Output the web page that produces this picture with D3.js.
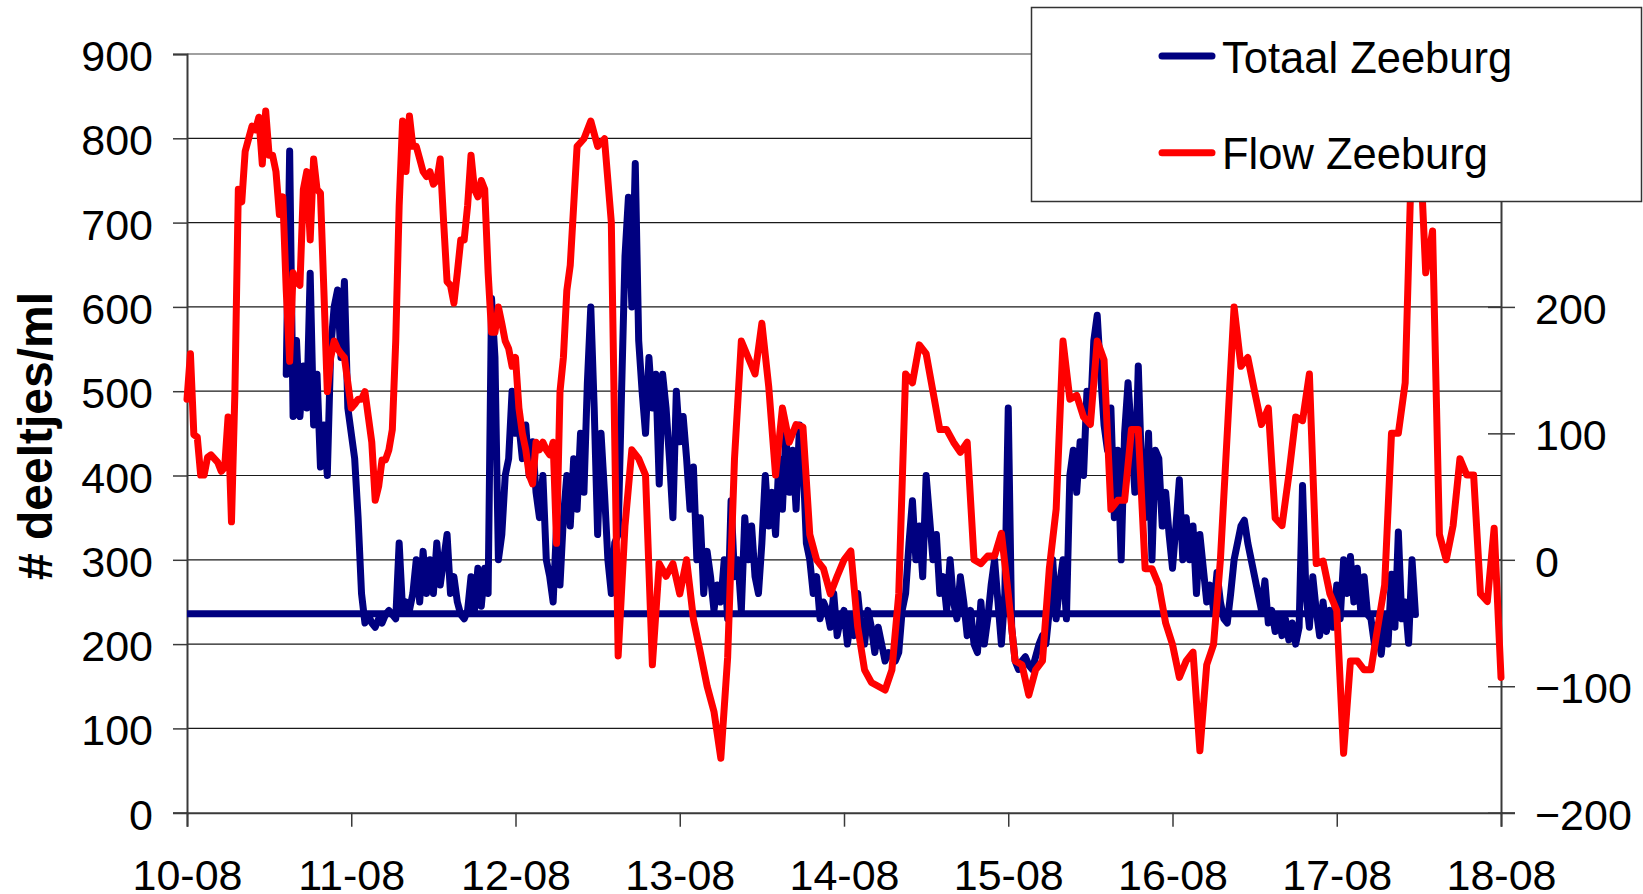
<!DOCTYPE html>
<html>
<head>
<meta charset="utf-8">
<script src="https://cdnjs.cloudflare.com/ajax/libs/d3/7.8.5/d3.min.js"></script>
<style>
  html, body { margin: 0; padding: 0; background: #fff; }
  text { font-family: "Liberation Sans", Arial, sans-serif; }
</style>
</head>
<body>
<div id="chart"></div>
<script>
// tick labels
var dagLabels = ['10-08', '11-08', '12-08', '13-08', '14-08', '15-08', '16-08', '17-08', '18-08'];
var linksTicks = [0, 100, 200, 300, 400, 500, 600, 700, 800, 900];
var rechtsTicks = [-200, -100, 0, 100, 200, 300, 400];

// Totaal Zeeburg (# deeltjes/ml), one reading per half hour, first one at 14.5 h after 10-08 00:00
var totaalStartUur = 14.5;
var totaalStapUur = 0.5;
var totaalZeeburg = [
  520, 785, 470, 560, 470, 530, 480, 640, 460, 520,
  410, 460, 400, 550, 600, 620, 540, 630, 480, 450,
  420, 350, 260, 225, 235, 225, 220, 230, 225, 235,
  240, 235, 230, 320, 240, 250, 240, 260, 300, 250,
  310, 260, 300, 260, 320, 270, 300, 330, 260, 280,
  250, 235, 230, 240, 280, 240, 290, 245, 290, 260,
  610, 540, 300, 330, 400, 420, 500, 450, 460, 420,
  460, 400, 440, 380, 350, 400, 300, 280, 250, 340,
  270, 350, 400, 340, 420, 360, 450, 380, 510, 600,
  480, 330, 450, 380, 300, 260, 320, 330, 500, 660,
  730, 600, 770, 560, 500, 450, 540, 480, 520, 390,
  520, 480, 420, 350, 500, 440, 470, 420, 360, 410,
  300, 350, 260, 310, 280, 240, 270, 250, 300, 230,
  370, 280, 300, 240, 350, 300, 340, 280, 260, 320,
  400, 340, 380, 330, 420, 360, 450, 380, 430, 360,
  460, 420, 320, 300, 260, 280, 230, 250, 240, 220,
  260, 210, 230, 240, 200, 230, 210, 260, 220, 200,
  240, 220, 190, 220, 200, 180, 190, 185, 180, 190,
  240, 260, 320, 370, 300, 340, 280, 400, 350, 300,
  330, 260, 280, 240, 300, 250, 230, 280, 250, 210,
  240, 200, 190, 250, 200, 230, 270, 300, 250, 200,
  260, 480, 220, 180, 170, 180, 185, 175, 170, 185,
  200, 210, 200, 240, 300, 230, 270, 300, 230, 400,
  430, 380, 440, 400, 500, 470, 560, 590, 520, 460,
  430, 480, 350, 430, 300, 450, 510, 450, 380, 530,
  400, 350, 450, 300, 430, 420, 340, 380, 330, 290,
  340, 395, 300, 350, 300, 340, 260, 330, 290, 250,
  270, 240, 285, 250, 230, 225, 260, 300, 320, 340,
  347, 320, 300, 280, 260, 240, 275, 225, 240, 215,
  235, 210, 230, 205, 225, 200, 220, 388, 260, 220,
  280, 240, 210, 250, 215, 240, 220, 270, 230, 300,
  260, 304, 250, 290, 240, 280, 235, 230, 200, 215,
  188, 230, 200, 283, 220, 333, 230, 250, 201, 300,
  235
];

// flat level of the Totaal Zeeburg series
var basisUren = [0, 179.5];
var basisWaarden = [236, 236];

// Flow Zeeburg (right axis), part 1: per half hour from 10-08 00:00 to 12-08 07:30
var flowDeel1Start = 0;
var flowDeel1Stap = 0.5;
var flowDeel1 = [
  127, 163, 99, 97, 67, 67, 81, 83, 80, 77,
  70, 73, 113, 30, 133, 293, 283, 323, 333, 343,
  340, 350, 313, 355, 320, 320, 307, 273, 287, 213,
  157, 227, 220, 217, 293, 307, 253, 317, 293, 290,
  213, 133, 160, 173, 167, 163, 160, 140, 120, 123,
  127, 127, 133, 113, 93, 47, 58, 79, 79, 87,
  103, 173, 280, 347, 307, 351, 327, 327, 317, 307,
  303, 307, 297, 300, 317, 267, 220, 217, 203, 227,
  253, 253, 280, 320, 293, 287, 300, 293, 227, 180,
  180, 200, 187, 173, 167, 153, 160, 120, 100, 87,
  67, 60, 93, 87, 93, 87, 83, 93, 13, 133,
  160, 213
];

// Flow Zeeburg, part 2: per hour from 12-08 08:00 to 18-08 00:00
var flowDeel2Start = 56;
var flowDeel2Stap = 1;
var flowDeel2 = [
  233, 327, 333, 347,
  327, 333, 267, -76, 27, 87, 80, 67, -83, -3,
  -13, -3, -27, 0, -47, -73, -100, -120, -157, -77,
  80, 173, 160, 147, 187, 137, 67, 120, 93, 107,
  105, 20, 0, -7, -27, -13, 0, 7, -53, -87,
  -97, -100, -103, -87, -27, 147, 140, 170, 163, 133,
  103, 103, 93, 85, 93, 0, -3, 3, 3, 21,
  -27, -80, -83, -107, -87, -80, -7, 40, 173, 127,
  130, 113, 107, 173, 158, 40, 47, 47, 103, 103,
  -7, -7, -20, -50, -67, -93, -80, -73, -151, -83,
  -67, 0, 100, 200, 153, 160, 133, 107, 120, 33,
  27, 67, 113, 110, 147, -3, -1, -27, -40, -153,
  -80, -80, -87, -87, -53, -20, 100, 100, 140, 333,
  347, 227, 260, 20, 0, 27, 80, 67, 67, -27,
  -33, 25, -93
];

var breedte = 1643;
var hoogte = 894;
var plotLinks = 187, plotRechts = 1501, plotBoven = 54, plotOnder = 812.7;
var blauw = '#000080';
var rood = '#ff0000';
var lijnDikte = 7;

var svg = d3.select('#chart').append('svg')
    .attr('width', breedte)
    .attr('height', hoogte);

var x = d3.scaleLinear().domain([0, 192]).range([plotLinks, plotRechts]);
var yL = d3.scaleLinear().domain([0, 900]).range([plotOnder, plotBoven]);
var yR = d3.scaleLinear().domain([-200, 400]).range([plotOnder, plotBoven]);

// gridlines
svg.append('g').selectAll('line')
  .data(linksTicks.slice(1, -1))
  .enter().append('line')
    .attr('x1', plotLinks).attr('x2', plotRechts)
    .attr('y1', function(d){ return yL(d); })
    .attr('y2', function(d){ return yL(d); })
    .attr('stroke', '#1a1a1a')
    .attr('stroke-width', 1.2);

// top border
svg.append('line')
  .attr('x1', plotLinks).attr('x2', plotRechts)
  .attr('y1', yL(900)).attr('y2', yL(900))
  .attr('stroke', '#808080').attr('stroke-width', 1.5);

// left axis
var axL = svg.append('g')
  .attr('transform', 'translate(' + plotLinks + ',0)')
  .call(d3.axisLeft(yL).tickValues(linksTicks).tickSize(14).tickPadding(20));

// right axis
var axR = svg.append('g')
  .attr('transform', 'translate(' + plotRechts + ',0)')
  .call(d3.axisRight(yR).tickValues(rechtsTicks).tickSize(14).tickPadding(20));
axR.selectAll('.tick line').attr('x1', -13);

// bottom axis
var axB = svg.append('g')
  .attr('transform', 'translate(0,' + plotOnder + ')')
  .call(d3.axisBottom(x).tickValues(d3.range(0, 193, 24))
    .tickFormat(function(d, i){ return dagLabels[i]; })
    .tickSize(14).tickPadding(0));

[axL, axR, axB].forEach(function(ax){
  ax.select('.domain').attr('stroke', '#3a3a3a').attr('stroke-width', 2);
  ax.selectAll('.tick line').attr('stroke', '#3a3a3a').attr('stroke-width', 1.5);
  ax.selectAll('.tick text')
    .attr('fill', '#000')
    .style('font-size', '43px')
    .style('font-family', '"Liberation Sans", Arial, sans-serif');
});
axL.selectAll('.tick text').attr('dy', 16.5);
axR.selectAll('.tick text').attr('dy', 16.5);
axB.selectAll('.tick text').attr('y', 77).attr('dy', 0);

// series as [hour, value] pairs
var reeks = function(start, stap, waarden){
  return waarden.map(function(v, i){ return [start + i * stap, v]; });
};
var totaalPunten = reeks(totaalStartUur, totaalStapUur, totaalZeeburg);
var basisPunten = basisWaarden.map(function(v, i){ return [basisUren[i], v]; });
var flowPunten = reeks(flowDeel1Start, flowDeel1Stap, flowDeel1)
  .concat(reeks(flowDeel2Start, flowDeel2Stap, flowDeel2));

var lijnL = d3.line()
  .x(function(d){ return x(d[0]); })
  .y(function(d){ return yL(d[1]); });
var lijnR = d3.line()
  .x(function(d){ return x(d[0]); })
  .y(function(d){ return yR(d[1]); });

svg.append('path')
  .datum(basisPunten)
  .attr('d', lijnL)
  .attr('fill', 'none')
  .attr('stroke', blauw)
  .attr('stroke-width', lijnDikte);

svg.append('path')
  .datum(totaalPunten)
  .attr('d', lijnL)
  .attr('fill', 'none')
  .attr('stroke', blauw)
  .attr('stroke-width', lijnDikte)
  .attr('stroke-linejoin', 'round')
  .attr('stroke-linecap', 'round');

svg.append('path')
  .datum(flowPunten)
  .attr('d', lijnR)
  .attr('fill', 'none')
  .attr('stroke', rood)
  .attr('stroke-width', lijnDikte)
  .attr('stroke-linejoin', 'round')
  .attr('stroke-linecap', 'round');

// y axis title
svg.append('text')
  .attr('transform', 'translate(52,436) rotate(-90)')
  .attr('text-anchor', 'middle')
  .style('font-size', '48px')
  .style('font-weight', 'bold')
  .text('# deeltjes/ml');

// legend
var legend = svg.append('g');
legend.append('rect')
  .attr('x', 1031.5).attr('y', 7.5)
  .attr('width', 610).attr('height', 194)
  .attr('fill', '#fff')
  .attr('stroke', '#333')
  .attr('stroke-width', 1.5);

var legendItems = [
  { naam: 'Totaal Zeeburg', kleur: blauw },
  { naam: 'Flow Zeeburg', kleur: rood }
];
legend.selectAll('g.item')
  .data(legendItems)
  .enter().append('g')
    .attr('class', 'item')
    .attr('transform', function(d, i){ return 'translate(0,' + (56 + i * 96.7) + ')'; })
    .each(function(d){
      var g = d3.select(this);
      g.append('line')
        .attr('x1', 1162).attr('x2', 1212)
        .attr('stroke', d.kleur)
        .attr('stroke-width', lijnDikte)
        .attr('stroke-linecap', 'round');
      g.append('text')
        .attr('x', 1222)
        .attr('y', 16.5)
        .style('font-size', '43.5px')
        .text(d.naam);
    });
</script>
</body>
</html>
